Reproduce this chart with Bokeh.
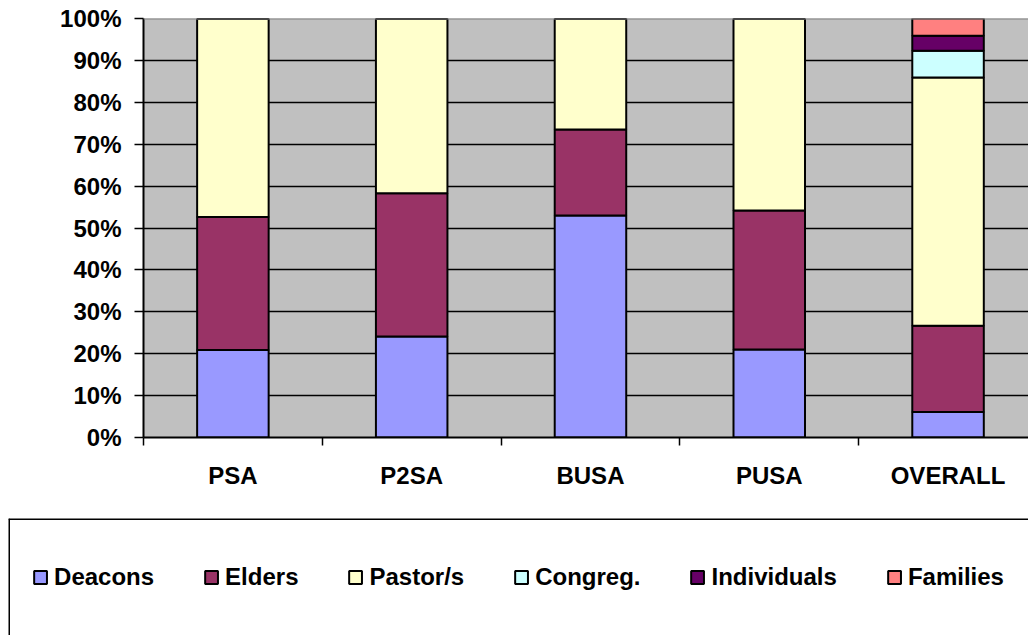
import numpy as np
from bokeh.plotting import figure
from bokeh.models import (ColumnDataSource, Range1d, FixedTicker, NumeralTickFormatter,
                          Legend, LegendItem, Span)
from bokeh.embed import file_html
from bokeh.resources import INLINE

# ---- data ----
categories = ["PSA", "P2SA", "BUSA", "PUSA", "OVERALL"]
series = ["Deacons", "Elders", "Pastor/s", "Congreg.", "Individuals", "Families"]
deacons = [20.9, 24.1, 53.0, 21.0, 6.1]
elders = [31.7, 34.2, 20.5, 33.2, 20.6]
pastors = [47.4, 41.7, 26.5, 45.8, 59.2]
congreg = [0.0, 0.0, 0.0, 0.0, 6.4]
individuals = [0.0, 0.0, 0.0, 0.0, 3.6]
families = [0.0, 0.0, 0.0, 0.0, 4.1]
y_ticks_pct = [0, 10, 20, 30, 40, 50, 60, 70, 80, 90, 100]

colors = ["#9999FF", "#993366", "#FFFFCC", "#CCFFFF", "#660066", "#FF8080"]
FONT = "Liberation Sans"
FSIZE = "24px"

xpos = np.arange(len(categories)) + 0.5
data = {"x": xpos}
for name, vals in zip(series, [deacons, elders, pastors, congreg, individuals, families]):
    data[name] = np.array(vals) / 100.0
source = ColumnDataSource(data)

# ---- chart figure ----
p = figure(width=1028, height=508, output_backend="svg", toolbar_location=None,
           x_range=Range1d(0, 4.95), y_range=Range1d(0, 1),
           min_border_left=143, min_border_right=0, min_border_top=18,
           min_border_bottom=71)
p.background_fill_color = "#C0C0C0"
p.border_fill_color = "white"
p.outline_line_color = None

p.vbar_stack(series, x="x", width=0.4, source=source, fill_color=colors,
             line_color="black", line_width=2)

# y axis
p.yaxis.ticker = FixedTicker(ticks=[t / 100.0 for t in y_ticks_pct])
p.yaxis.formatter = NumeralTickFormatter(format="0%")
p.yaxis.major_label_text_font = FONT
p.yaxis.major_label_text_font_style = "bold"
p.yaxis.major_label_text_font_size = FSIZE
p.yaxis.major_label_text_color = "black"
p.yaxis.major_tick_out = 9
p.yaxis.major_tick_in = 0
p.yaxis.minor_tick_out = 0
p.yaxis.minor_tick_in = 0
p.yaxis.major_label_standoff = 13
p.yaxis.axis_line_width = 2
p.yaxis.major_tick_line_width = 1.5

# x axis
p.xaxis.ticker = FixedTicker(ticks=list(xpos), minor_ticks=list(range(len(categories))))
p.xaxis.major_label_overrides = {float(x): c for x, c in zip(xpos, categories)}
p.xaxis.major_label_text_font = FONT
p.xaxis.major_label_text_font_style = "bold"
p.xaxis.major_label_text_font_size = FSIZE
p.xaxis.major_label_text_color = "black"
p.xaxis.major_tick_out = 0
p.xaxis.major_tick_in = 0
p.xaxis.minor_tick_out = 8
p.xaxis.minor_tick_in = 0
p.xaxis.minor_tick_line_width = 1.5
p.xaxis.minor_tick_line_color = "black"
p.xaxis.major_label_standoff = 16
p.xaxis.axis_line_width = 2

# grid
p.xgrid.grid_line_color = None
p.ygrid.ticker = FixedTicker(ticks=[t / 100.0 for t in y_ticks_pct[1:-1]])
p.ygrid.grid_line_color = "black"
p.ygrid.grid_line_width = 1.5
p.add_layout(Span(location=1.0, dimension="width", line_color="#808080", line_width=2))

# ---- legend figure (separate root, box open to the right/bottom) ----
p2 = figure(width=1028, height=127, output_backend="svg", toolbar_location=None,
            x_range=Range1d(0, 1), y_range=Range1d(0, 1),
            x_axis_location=None, y_axis_location=None,
            min_border=0, min_border_top=10, min_border_left=8)
p2.outline_line_color = None
p2.xgrid.grid_line_color = None
p2.ygrid.grid_line_color = None
p2.background_fill_color = "white"
p2.border_fill_color = "white"

legend_renderers = p2.vbar_stack(series, x="x", width=0.4, source=source,
                                 fill_color=colors, line_color="black", line_width=2)
for r in legend_renderers:
    r.visible = False
items = [LegendItem(label=name, renderers=[r]) for name, r in zip(series, legend_renderers)]

legend = Legend(items=items, orientation="horizontal", location="center",
                border_line_color=None, background_fill_alpha=0,
                label_text_font=FONT, label_text_font_style="bold",
                label_text_font_size=FSIZE, label_text_color="black",
                glyph_width=16, glyph_height=16, label_standoff=6,
                spacing=49, padding=0, margin=0)
p2.add_layout(legend, "center")
p2.add_layout(Span(location=1.0, dimension="width", line_color="black", line_width=3))
p2.add_layout(Span(location=0.0, dimension="height", line_color="black", line_width=3))

open("out.html", "w").write(file_html([p, p2], INLINE))
